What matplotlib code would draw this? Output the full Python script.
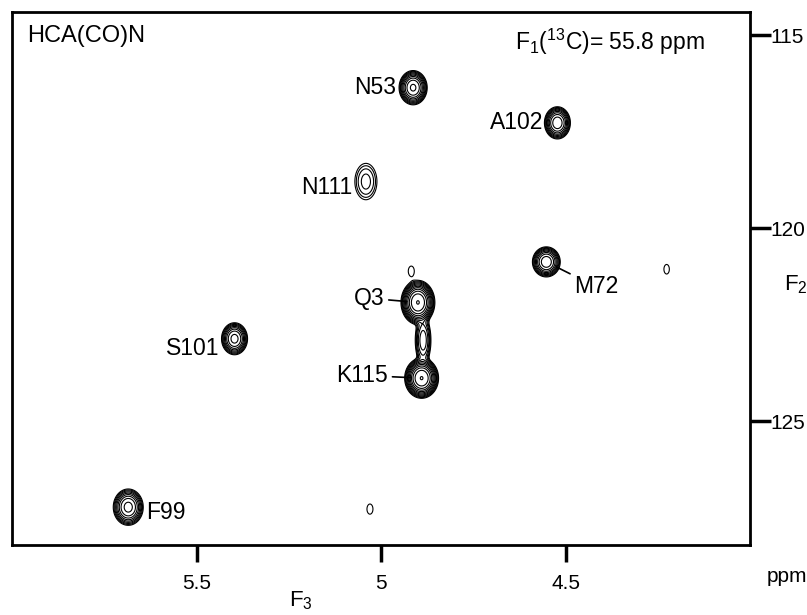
import numpy as np
import matplotlib.pyplot as plt

plt.rcParams['font.family'] = ['Liberation Sans', 'DejaVu Sans']
plt.rcParams['mathtext.default'] = 'regular'

# Cross peaks: F3 (1H) and F2 (15N) shifts in ppm, relative height, line widths
peak_h = [4.913, 4.522, 5.041, 4.552, 4.900, 4.890, 4.886, 5.397, 5.685, 4.918, 4.226, 5.030]
peak_n = [116.36, 117.27, 118.79, 120.87, 121.92, 123.88, 122.90, 122.86, 127.22, 121.11, 121.06, 127.27]
peak_amp = [30, 25, 3.5, 25, 60, 60, 8.0, 22, 22, 1.3, 1.3, 1.3]
peak_wh = [0.0177, 0.0167, 0.0207, 0.0179, 0.0198, 0.0198, 0.012, 0.017, 0.0196, 0.0105, 0.0095, 0.0105]
peak_wn = [0.206, 0.198, 0.326, 0.185, 0.247, 0.225, 0.35, 0.20, 0.227, 0.17, 0.16, 0.17]

# Assignments: label and the peak it refers to
label_text = ["N53", "A102", "N111", "M72", "Q3", "K115", "S101", "F99"]
label_h = [4.913, 4.522, 5.041, 4.552, 4.900, 4.890, 5.397, 5.685]
label_n = [116.36, 117.27, 118.79, 120.87, 121.92, 123.88, 122.86, 127.22]

fig = plt.figure(figsize=(8.07, 6.15), dpi=100)
ax = fig.add_axes([0.0149, 0.1138, 0.9145, 0.8667])

x = np.linspace(3.95, 6.05, 1700)
y = np.linspace(114.0, 128.6, 1300)
X, Y = np.meshgrid(x, y)
Z = np.zeros_like(X)
for h, n, a, wh, wn in zip(peak_h, peak_n, peak_amp, peak_wh, peak_wn):
    r2 = ((X - h) / wh) ** 2 + ((Y - n) / wn) ** 2
    Z += a * np.exp(-0.5 * r2 ** 1.25)

levels = 1.0 * 1.45 ** np.arange(12)
ax.contour(X, Y, Z, levels=levels, colors='black', linewidths=0.8)

ax.set_xlim(6.0, 4.0)
ax.set_ylim(128.2, 114.4)

for sp in ax.spines.values():
    sp.set_linewidth(2)

ax.yaxis.tick_right()
ax.set_xticks([5.5, 5.0, 4.5])
ax.set_xticklabels(["5.5", "5", "4.5"])
ax.set_yticks([115, 120, 125])
ax.tick_params(axis='x', direction='out', length=12, width=2.5, labelsize=15, pad=9)
ax.tick_params(axis='y', direction='out', length=15, width=2.5, labelsize=15, pad=0)

# peak labels: offset in points, alignment, leader line
offsets = {
    "N53": (-12, 0, 'right', False),
    "A102": (-10, 0, 'right', False),
    "N111": (-10, -4, 'right', False),
    "M72": (20, -18, 'left', True),
    "Q3": (-24, 3, 'right', True),
    "K115": (-24, 2, 'right', True),
    "S101": (-11, -7, 'right', False),
    "F99": (13, -4, 'left', False),
}
for t, h, n in zip(label_text, label_h, label_n):
    dx, dy, ha, lead = offsets[t]
    props = dict(arrowstyle='-', lw=1.2, color='black', shrinkA=1, shrinkB=8) if lead else None
    ax.annotate(t, xy=(h, n), xytext=(dx, dy), textcoords='offset points',
                ha=ha, va='center', fontsize=16.5, arrowprops=props)

ax.text(0.02, 0.975, "HCA(CO)N", transform=ax.transAxes, fontsize=17,
        ha='left', va='top')
ax.text(0.939, 0.972, r"F$_1$($^{13}$C)= 55.8 ppm", transform=ax.transAxes,
        fontsize=16.5, ha='right', va='top')

fig.text(0.972, 0.537, r"F$_2$", fontsize=16, ha='left', va='center')
fig.text(0.950, 0.062, "ppm", fontsize=15, ha='left', va='center')
fig.text(0.358, 0.024, r"F$_3$", fontsize=16, ha='left', va='center')

fig.savefig("out.png", dpi=100)
